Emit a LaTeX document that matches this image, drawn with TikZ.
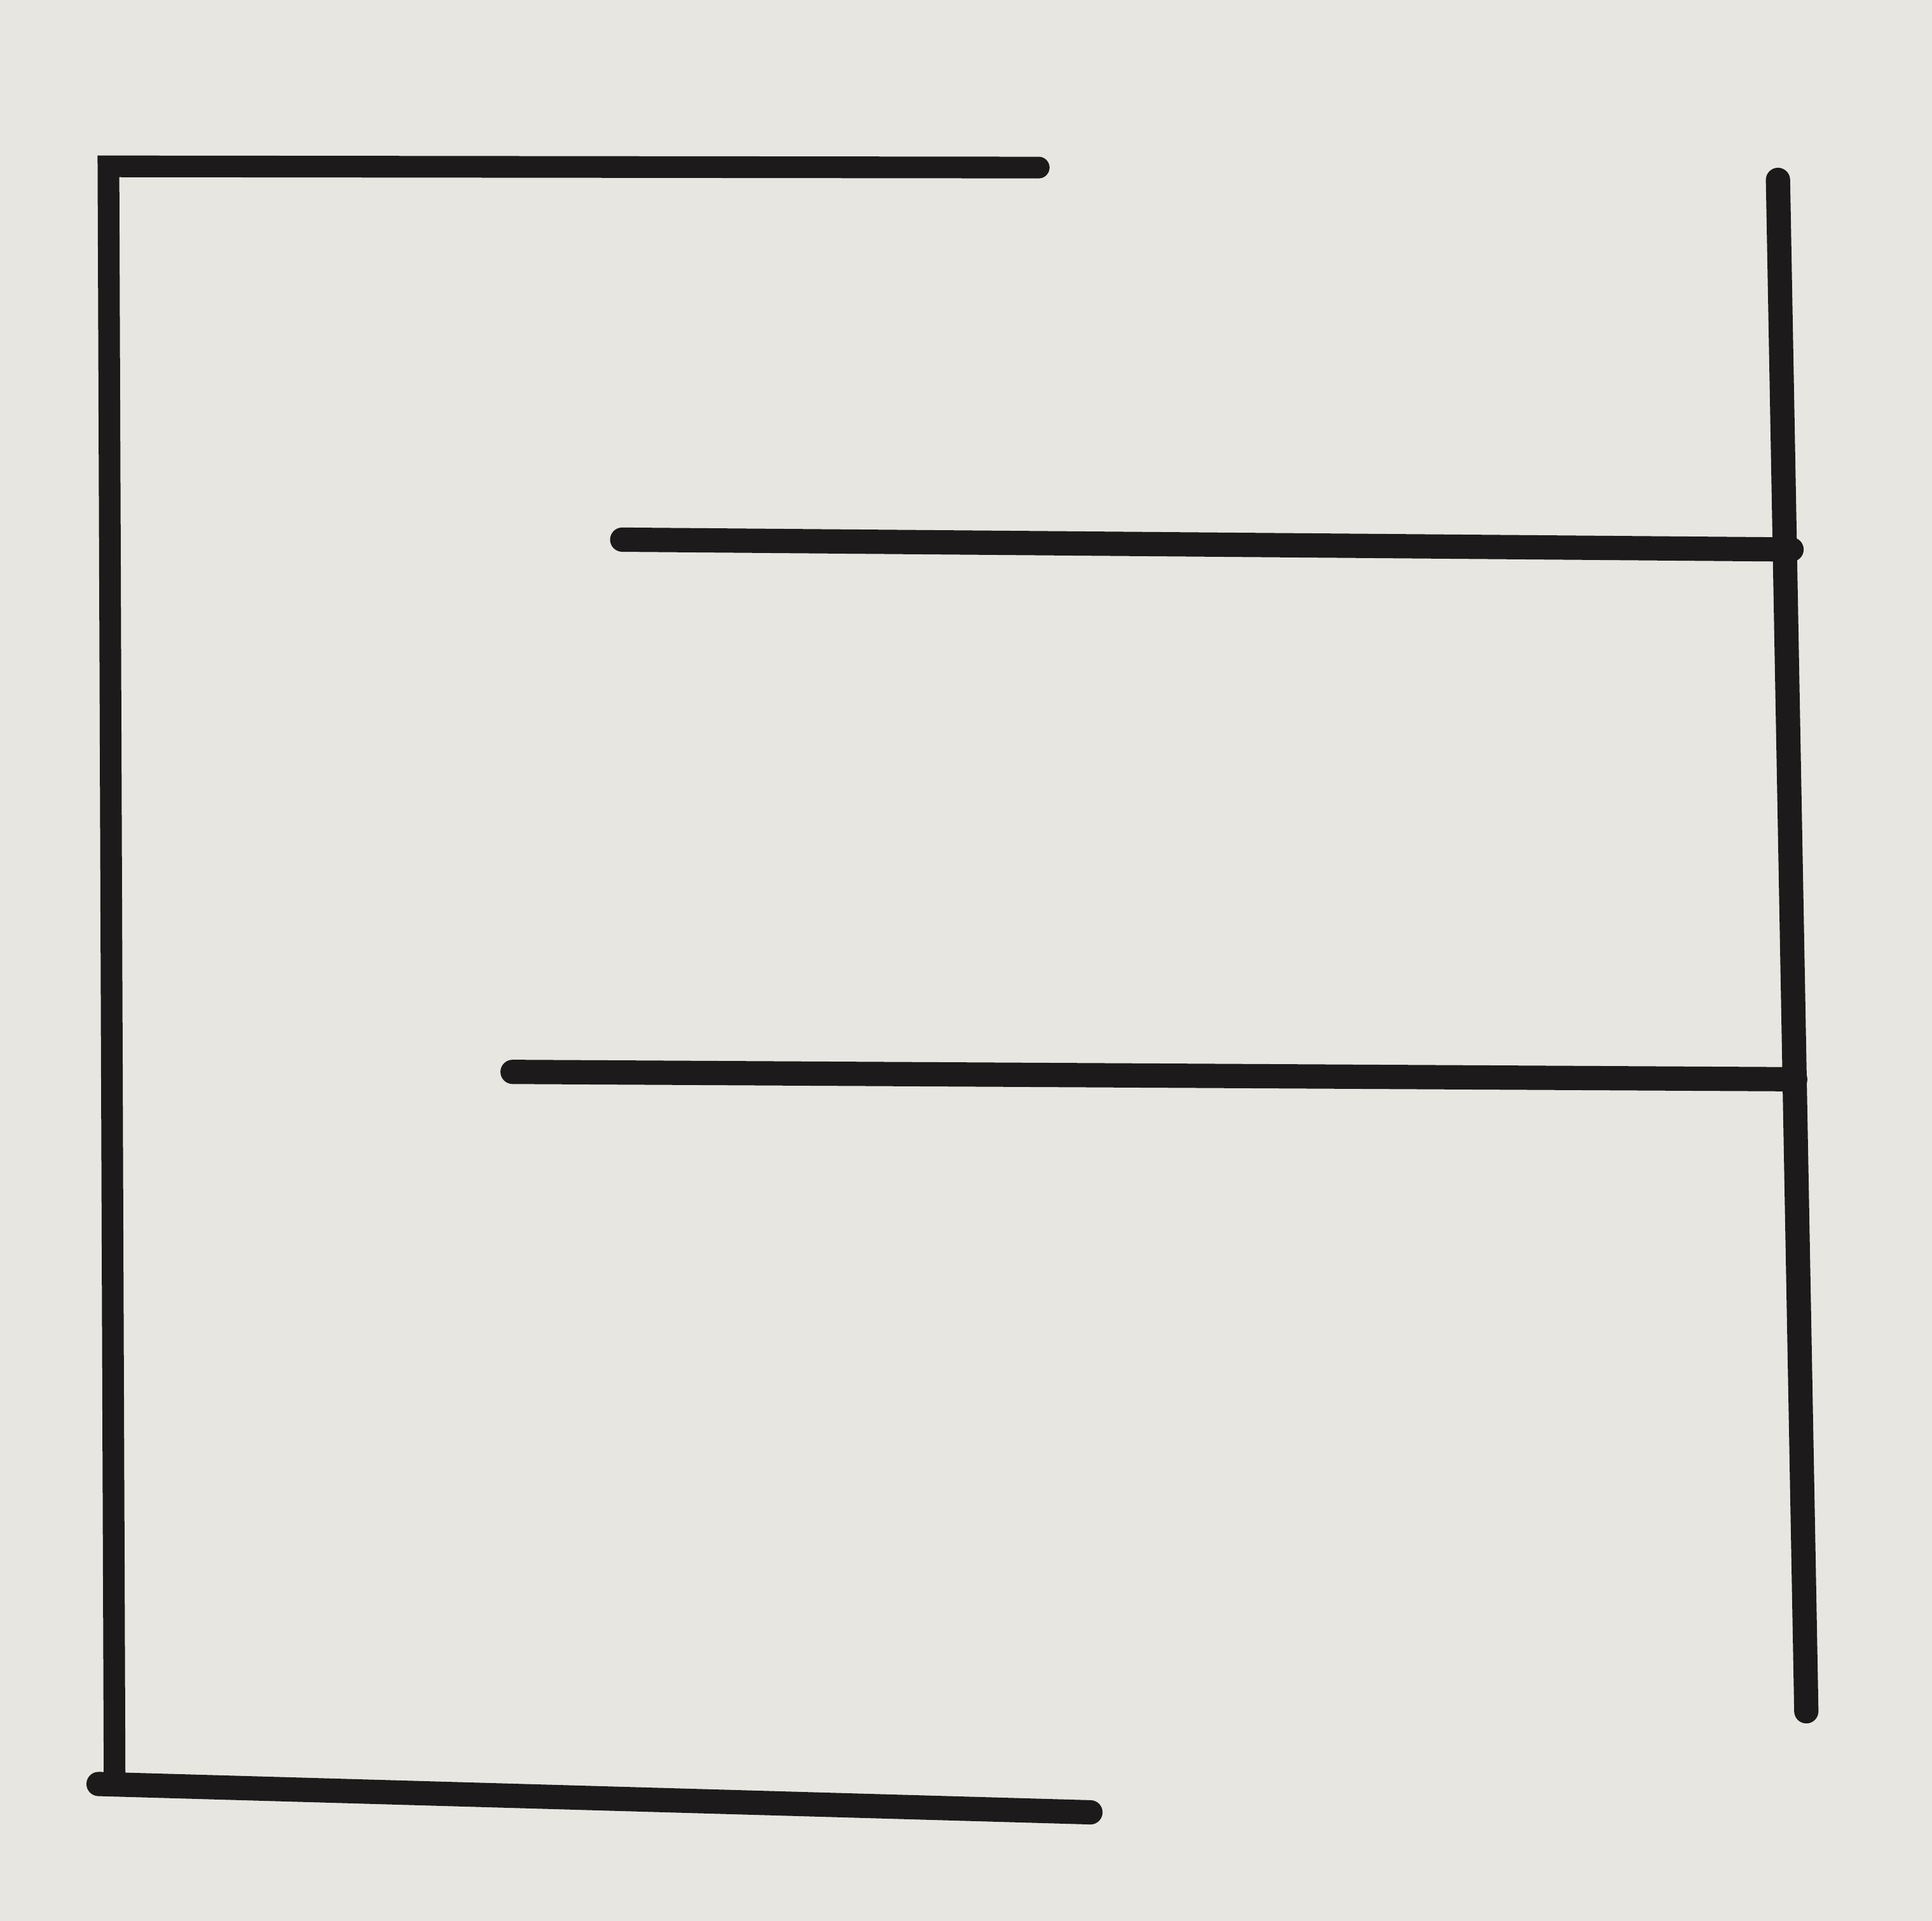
\documentclass[tikz,border=0pt]{standalone}
\usepackage{xcolor}
\usepackage{tikz}
\usetikzlibrary{calc}
\definecolor{paper}{HTML}{E8E6E1}
\definecolor{ink}{HTML}{1C1A1A}
\tikzset{
  line/.style={draw=ink, line width=5pt, line cap=round},
  thickline/.style={draw=ink, line width=5.6pt, line cap=round}
}

\begin{document}
\begin{tikzpicture}[x=0.01cm, y=-0.01cm]
  \fill[paper] (0,0) rectangle (1568,1559);
  \useasboundingbox (0,0) rectangle (1568,1559);

  \coordinate (TL) at (88,135);
  \coordinate (TR) at (843,136);
  \coordinate (BL) at (93,1442);
  \coordinate (FL) at (80,1448);
  \coordinate (FR) at (885,1471);
  \coordinate (RT) at (1443,146);
  \coordinate (RB) at (1466,1389);
  \coordinate (A) at (505,438);
  \coordinate (A1) at (1454,446);
  \coordinate (B) at (416,870);
  \coordinate (B1) at (1457,876);

  \draw[line] (TR)--(TL)--(BL);
  \draw[thickline] (FL)--(FR);
  \draw[thickline] (RT)--(RB);
  \draw[thickline] (A)--(A1);
  \draw[thickline] (B)--(B1);
\end{tikzpicture}
\end{document}
